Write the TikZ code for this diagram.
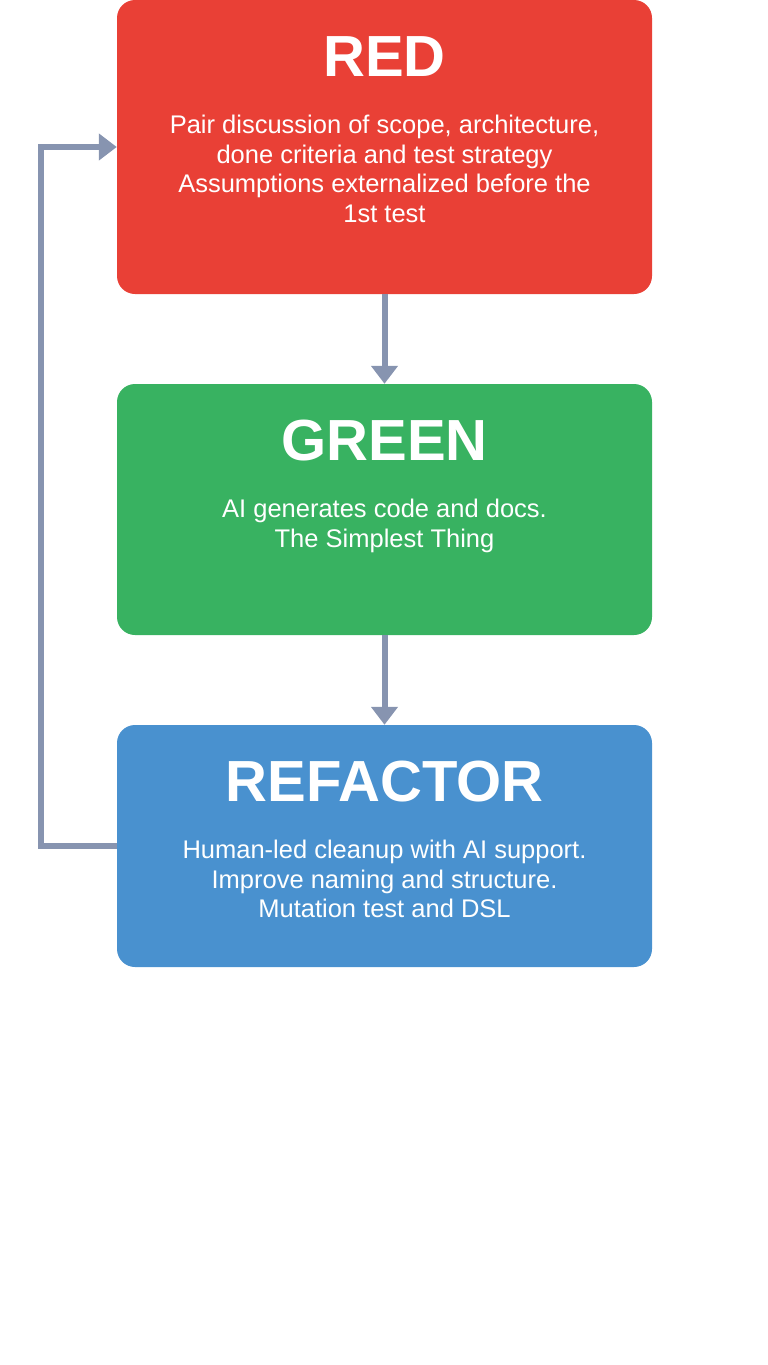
\documentclass[tikz,border=0pt]{standalone}
\usepackage{fontspec}
\setmainfont{Liberation Sans}
\usepackage{tikz}
\usetikzlibrary{calc, positioning, arrows.meta}
\definecolor{phaseRed}{RGB}{233, 64, 54}
\definecolor{phaseGreen}{RGB}{56, 178, 97}
\definecolor{phaseBlue}{RGB}{73, 145, 207}
\definecolor{flowGray}{RGB}{135, 148, 176}

\tikzset{
  phase/.style={rounded corners=18pt, minimum width=535pt, inner sep=0pt},
  title/.style={white, font=\fontsize{58}{62}\selectfont\bfseries, anchor=base, inner sep=0pt},
  body/.style={white, font=\fontsize{25.5}{29.5}\selectfont, align=center, anchor=north, inner sep=0pt},
  flow/.style={flowGray, line width=6pt, -{Triangle[length=18pt, width=26pt]}}
}

\begin{document}
\begin{tikzpicture}[x=1pt, y=-1pt]
  \useasboundingbox (0,0) rectangle (768,1365);
  % the three phases
  \node[phase, fill=phaseRed, minimum height=294pt] (red) at (384.5,147) {};
  \node[phase, fill=phaseGreen, minimum height=251pt] (green) at (384.5,509.5) {};
  \node[phase, fill=phaseBlue, minimum height=242pt] (refactor) at (384.5,846) {};

  \node[title] (redTitle) at ($(red.north)+(0,77)$) {RED};
  \node[body] (redText) at ($(red.north)+(0,115.5)$) {Pair discussion of scope, architecture,\\ done criteria and test strategy\\ Assumptions externalized before the\\ 1st test};

  \node[title] (greenTitle) at ($(green.north)+(0,77)$) {GREEN};
  \node[body] (greenText) at ($(green.north)+(0,115.5)$) {AI generates code and docs.\\ The Simplest Thing};

  \node[title] (refactorTitle) at ($(refactor.north)+(0,77)$) {REFACTOR};
  \node[body] (refactorText) at ($(refactor.north)+(0,115.5)$) {Human-led cleanup with AI support.\\ Improve naming and structure.\\ Mutation test and DSL};

  % connectors
  \draw[flow] (red.south) -- (green.north);
  \draw[flow] (green.south) -- (refactor.north);
  \coordinate (loopCorner) at (41,846);
  \draw[flow] (refactor.west) -- (loopCorner) |- (red.west);
\end{tikzpicture}
\end{document}
